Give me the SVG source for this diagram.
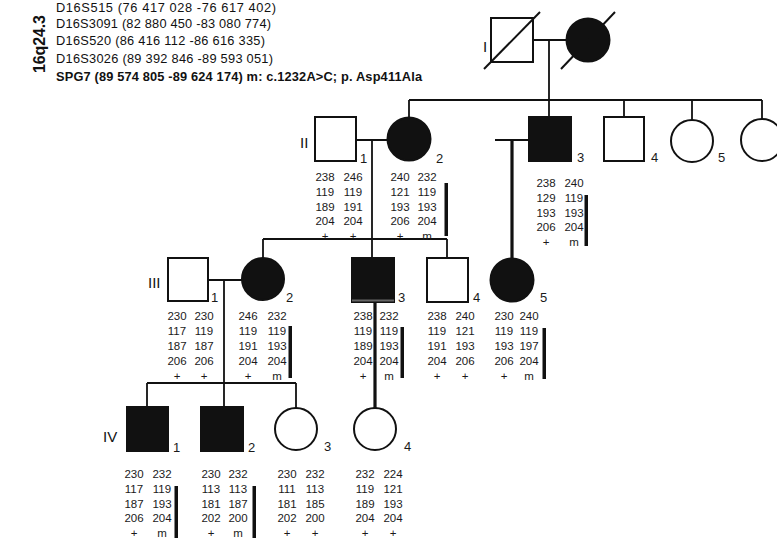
<svg xmlns="http://www.w3.org/2000/svg" width="777" height="540" viewBox="0 0 777 540">
<style>
.n{fill:#fff;stroke:#111;stroke-width:2}
.a{fill:#111;stroke:#111;stroke-width:2}
.c{fill:none;stroke:#111;stroke-width:1.8}
.t{fill:none;stroke:#111;stroke-width:3.2}
.bar{fill:#111}
.d{font-family:"Liberation Sans",Arial,sans-serif;font-size:11.5px;fill:#1a1a1a;text-anchor:middle}
.lb{font-family:"Liberation Sans",Arial,sans-serif;font-size:13px;fill:#1a1a1a}
.g{font-family:"Liberation Sans",Arial,sans-serif;font-size:15px;fill:#111}
.h{font-family:"Liberation Sans",Arial,sans-serif;font-size:12.8px;fill:#111}
.hb{font-family:"Liberation Sans",Arial,sans-serif;font-size:12.8px;fill:#111;font-weight:bold}
</style>
<g id="header">
<text class="hb" transform="translate(45,44) rotate(-90)" text-anchor="middle" style="font-size:16px" textLength="58">16q24.3</text>
<text class="h" x="56" y="11.5" textLength="220">D16S515 (76 417 028 -76 617 402)</text>
<text class="h" x="56" y="28" textLength="215">D16S3091 (82 880 450 -83 080 774)</text>
<text class="h" x="56" y="45" textLength="209">D16S520 (86 416 112 -86 616 335)</text>
<text class="h" x="56" y="63" textLength="217">D16S3026 (89 392 846 -89 593 051)</text>
<text class="hb" x="56" y="80.5" textLength="366">SPG7 (89 574 805 -89 624 174) m: c.1232A&gt;C; p. Asp411Ala</text>
</g>
<g id="generations">
<text class="g" x="483" y="52">I</text>
<text class="g" x="300" y="148">II</text>
<text class="g" x="148" y="288">III</text>
<text class="g" x="103" y="442">IV</text>
</g>
<g id="connectors">
<path class="c" d="M533 40H567M549 40V117"/>
<path class="c" d="M409 100H762M409 100V118M624 100V117M692 100V120M762 100V119"/>
<path class="c" d="M356 140H388M372 140V258"/>
<path class="c" d="M263 239H447M263 239V258M447 239V258"/>
<path class="c" d="M495 140H529"/>
<path class="t" d="M512 140V258"/>
<path class="c" d="M208 280H242M224 280V407"/>
<path class="c" d="M147 383H296M147 383V407M296 383V408"/>
<path class="t" d="M375 301V408"/>
</g>
<g id="I-1"><rect class="n" x="491" y="18" width="42" height="44"/><line x1="484" y1="69" x2="540" y2="12" stroke="#111" stroke-width="2"/></g>
<g id="I-2"><circle class="a" cx="588" cy="40" r="21.5"/><line x1="561" y1="69" x2="615" y2="12" stroke="#111" stroke-width="2"/></g>
<g id="II-1"><rect class="n" x="315" y="117" width="41" height="44"/><text class="lb" x="360" y="163">1</text>
<text class="d" x="325" y="181"><tspan x="325">238</tspan><tspan x="325" dy="14.75">119</tspan><tspan x="325" dy="14.75">189</tspan><tspan x="325" dy="14.75">204</tspan><tspan x="325" dy="14.75">+</tspan></text>
<text class="d" x="353" y="181"><tspan x="353">246</tspan><tspan x="353" dy="14.75">119</tspan><tspan x="353" dy="14.75">191</tspan><tspan x="353" dy="14.75">204</tspan><tspan x="353" dy="14.75">+</tspan></text></g>
<g id="II-2"><circle class="a" cx="409" cy="139" r="21.5"/><text class="lb" x="436" y="163">2</text>
<text class="d" x="400" y="181"><tspan x="400">240</tspan><tspan x="400" dy="14.75">121</tspan><tspan x="400" dy="14.75">193</tspan><tspan x="400" dy="14.75">206</tspan><tspan x="400" dy="14.75">+</tspan></text>
<text class="d" x="427" y="181"><tspan x="427">232</tspan><tspan x="427" dy="14.75">119</tspan><tspan x="427" dy="14.75">193</tspan><tspan x="427" dy="14.75">204</tspan><tspan x="427" dy="14.75">m</tspan></text>
<rect class="bar" x="444.5" y="183" width="3.5" height="53"/></g>
<g id="II-3"><rect class="a" x="529" y="117" width="42" height="44"/><text class="lb" x="577" y="162">3</text>
<text class="d" x="546" y="187"><tspan x="546">238</tspan><tspan x="546" dy="14.75">129</tspan><tspan x="546" dy="14.75">193</tspan><tspan x="546" dy="14.75">206</tspan><tspan x="546" dy="14.75">+</tspan></text>
<text class="d" x="574" y="187"><tspan x="574">240</tspan><tspan x="574" dy="14.75">119</tspan><tspan x="574" dy="14.75">193</tspan><tspan x="574" dy="14.75">204</tspan><tspan x="574" dy="14.75">m</tspan></text>
<rect class="bar" x="584.5" y="195" width="3.5" height="51"/></g>
<g id="II-4"><rect class="n" x="604" y="117" width="40" height="44"/><text class="lb" x="651" y="162">4</text></g>
<g id="II-5"><circle class="n" cx="692" cy="141" r="21"/><text class="lb" x="718" y="162">5</text></g>
<g id="II-6"><circle class="n" cx="762" cy="140" r="21"/></g>
<g id="III-1"><rect class="n" x="168" y="258" width="40" height="43"/><text class="lb" x="211" y="302">1</text>
<text class="d" x="177" y="320"><tspan x="177">230</tspan><tspan x="177" dy="15">117</tspan><tspan x="177" dy="15">187</tspan><tspan x="177" dy="15">206</tspan><tspan x="177" dy="15">+</tspan></text>
<text class="d" x="204" y="320"><tspan x="204">230</tspan><tspan x="204" dy="15">119</tspan><tspan x="204" dy="15">187</tspan><tspan x="204" dy="15">206</tspan><tspan x="204" dy="15">+</tspan></text></g>
<g id="III-2"><circle class="a" cx="263" cy="279" r="21"/><text class="lb" x="286" y="302">2</text>
<text class="d" x="248" y="320"><tspan x="248">246</tspan><tspan x="248" dy="15">119</tspan><tspan x="248" dy="15">191</tspan><tspan x="248" dy="15">204</tspan><tspan x="248" dy="15">+</tspan></text>
<text class="d" x="277" y="320"><tspan x="277">232</tspan><tspan x="277" dy="15">119</tspan><tspan x="277" dy="15">193</tspan><tspan x="277" dy="15">204</tspan><tspan x="277" dy="15">m</tspan></text>
<rect class="bar" x="288.5" y="326" width="3.5" height="52"/></g>
<g id="III-3"><rect class="a" x="352" y="258" width="42" height="44"/><line x1="352" y1="300.5" x2="394" y2="300.5" stroke="#666" stroke-width="2"/><text class="lb" x="398" y="302">3</text>
<text class="d" x="363" y="320"><tspan x="363">238</tspan><tspan x="363" dy="15">119</tspan><tspan x="363" dy="15">189</tspan><tspan x="363" dy="15">204</tspan><tspan x="363" dy="15">+</tspan></text>
<text class="d" x="389" y="320"><tspan x="389">232</tspan><tspan x="389" dy="15">119</tspan><tspan x="389" dy="15">193</tspan><tspan x="389" dy="15">204</tspan><tspan x="389" dy="15">m</tspan></text>
<rect class="bar" x="400.5" y="327" width="3.5" height="51"/></g>
<g id="III-4"><rect class="n" x="427" y="258" width="41" height="44"/><text class="lb" x="473" y="302">4</text>
<text class="d" x="437" y="320"><tspan x="437">238</tspan><tspan x="437" dy="15">119</tspan><tspan x="437" dy="15">191</tspan><tspan x="437" dy="15">204</tspan><tspan x="437" dy="15">+</tspan></text>
<text class="d" x="465" y="320"><tspan x="465">240</tspan><tspan x="465" dy="15">121</tspan><tspan x="465" dy="15">193</tspan><tspan x="465" dy="15">206</tspan><tspan x="465" dy="15">+</tspan></text></g>
<g id="III-5"><circle class="a" cx="512" cy="280" r="21.5"/><text class="lb" x="540" y="302">5</text>
<text class="d" x="504" y="320"><tspan x="504">230</tspan><tspan x="504" dy="15">119</tspan><tspan x="504" dy="15">193</tspan><tspan x="504" dy="15">206</tspan><tspan x="504" dy="15">+</tspan></text>
<text class="d" x="529" y="320"><tspan x="529">240</tspan><tspan x="529" dy="15">119</tspan><tspan x="529" dy="15">197</tspan><tspan x="529" dy="15">204</tspan><tspan x="529" dy="15">m</tspan></text>
<rect class="bar" x="542.5" y="328" width="3.5" height="51"/></g>
<g id="IV-1"><rect class="a" x="127" y="407" width="41" height="44"/><text class="lb" x="173" y="452">1</text>
<text class="d" x="134" y="478"><tspan x="134">230</tspan><tspan x="134" dy="14.8">117</tspan><tspan x="134" dy="14.8">187</tspan><tspan x="134" dy="14.8">206</tspan><tspan x="134" dy="14.8">+</tspan></text>
<text class="d" x="162" y="478"><tspan x="162">232</tspan><tspan x="162" dy="14.8">119</tspan><tspan x="162" dy="14.8">193</tspan><tspan x="162" dy="14.8">204</tspan><tspan x="162" dy="14.8">m</tspan></text>
<rect class="bar" x="174.5" y="486" width="3.5" height="52"/></g>
<g id="IV-2"><rect class="a" x="201" y="407" width="42" height="44"/><text class="lb" x="248" y="452">2</text>
<text class="d" x="211" y="478"><tspan x="211">230</tspan><tspan x="211" dy="14.8">113</tspan><tspan x="211" dy="14.8">181</tspan><tspan x="211" dy="14.8">202</tspan><tspan x="211" dy="14.8">+</tspan></text>
<text class="d" x="238" y="478"><tspan x="238">232</tspan><tspan x="238" dy="14.8">113</tspan><tspan x="238" dy="14.8">187</tspan><tspan x="238" dy="14.8">200</tspan><tspan x="238" dy="14.8">m</tspan></text>
<rect class="bar" x="252.5" y="486" width="3.5" height="52"/></g>
<g id="IV-3"><circle class="n" cx="296" cy="429" r="21"/><text class="lb" x="324" y="451">3</text>
<text class="d" x="287" y="478"><tspan x="287">230</tspan><tspan x="287" dy="14.8">111</tspan><tspan x="287" dy="14.8">181</tspan><tspan x="287" dy="14.8">202</tspan><tspan x="287" dy="14.8">+</tspan></text>
<text class="d" x="315" y="478"><tspan x="315">232</tspan><tspan x="315" dy="14.8">113</tspan><tspan x="315" dy="14.8">185</tspan><tspan x="315" dy="14.8">200</tspan><tspan x="315" dy="14.8">+</tspan></text></g>
<g id="IV-4"><circle class="n" cx="375" cy="429" r="21"/><text class="lb" x="404" y="451">4</text>
<text class="d" x="365" y="478"><tspan x="365">232</tspan><tspan x="365" dy="14.8">119</tspan><tspan x="365" dy="14.8">189</tspan><tspan x="365" dy="14.8">204</tspan><tspan x="365" dy="14.8">+</tspan></text>
<text class="d" x="393" y="478"><tspan x="393">224</tspan><tspan x="393" dy="14.8">121</tspan><tspan x="393" dy="14.8">193</tspan><tspan x="393" dy="14.8">204</tspan><tspan x="393" dy="14.8">+</tspan></text></g>
</svg>
